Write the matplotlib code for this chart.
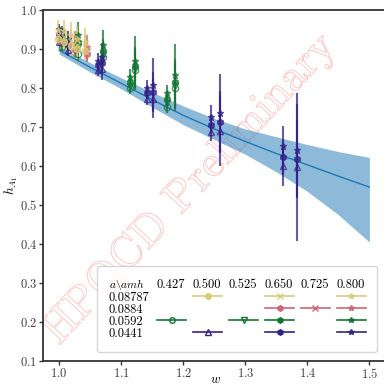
"""
h_A1 form factor vs w with the fit band and HPQCD watermark.
Values read off the reference picture.
"""

import matplotlib
matplotlib.use("Agg")
import matplotlib.pyplot as plt
from matplotlib.lines import Line2D
from matplotlib.patches import PathPatch
from matplotlib.textpath import TextPath
from matplotlib.font_manager import FontProperties
from matplotlib.transforms import Affine2D
import numpy as np

plt.rcParams["font.family"] = "serif"
plt.rcParams["font.serif"] = ["cmr10"]
plt.rcParams["mathtext.fontset"] = "cm"
plt.rcParams["axes.formatter.use_mathtext"] = True

# ------------------------------- data -------------------------------------- #
# fit band
w_fit = [1.0, 1.05, 1.1, 1.15, 1.2, 1.25, 1.3, 1.35, 1.4, 1.45, 1.5]
h_fit = [0.897, 0.853, 0.812, 0.770, 0.730, 0.695, 0.663, 0.632, 0.603, 0.574, 0.546]
h_fit_hi = [0.907, 0.865, 0.826, 0.789, 0.754, 0.722, 0.695, 0.675, 0.655, 0.637, 0.622]
h_fit_lo = [0.887, 0.841, 0.798, 0.751, 0.706, 0.668, 0.630, 0.585, 0.535, 0.475, 0.405]

# a = 0.08787
w_08787 = [0.998, 1.008, 1.019, 1.028, 1.042]
h_08787 = {0.500: [0.925, 0.918, 0.908, 0.900, 0.895],
           0.650: [0.935, 0.930, 0.920, 0.910, 0.905],
           0.800: [0.950, 0.945, 0.935, 0.925, 0.918]}
e_08787 = {0.500: [0.015, 0.020, 0.025, 0.025, 0.025],
           0.650: [0.020, 0.025, 0.030, 0.030, 0.030],
           0.800: [0.025, 0.030, 0.035, 0.035, 0.035]}

# a = 0.0884
w_0884 = [1.003, 1.026, 1.045]
h_0884 = {0.650: [0.918, 0.897, 0.886],
          0.725: [0.925, 0.905, 0.895],
          0.800: [0.935, 0.915, 0.905]}
e_0884 = {0.650: [0.015, 0.020, 0.020],
          0.725: [0.018, 0.025, 0.025],
          0.800: [0.020, 0.030, 0.030]}

# a = 0.0592
w_0592 = [1.005, 1.031, 1.071, 1.115, 1.123, 1.174, 1.186]
h_0592 = {0.427: [0.905, 0.888, 0.880, 0.800, 0.846, 0.752, 0.800],
          0.525: [0.918, 0.905, 0.888, 0.806, 0.850, 0.762, 0.806],
          0.650: [0.930, 0.918, 0.896, 0.815, 0.856, 0.772, 0.815],
          0.800: [0.945, 0.935, 0.910, 0.828, 0.868, 0.787, 0.833]}
e_0592 = {0.427: [0.010, 0.020, 0.020, 0.015, 0.050, 0.015, 0.060],
          0.525: [0.012, 0.020, 0.025, 0.015, 0.050, 0.015, 0.060],
          0.650: [0.012, 0.025, 0.030, 0.018, 0.050, 0.018, 0.060],
          0.800: [0.015, 0.035, 0.040, 0.020, 0.065, 0.020, 0.080]}

# a = 0.0441
w_0441 = [1.0, 1.015, 1.063, 1.069, 1.142, 1.152, 1.244, 1.26, 1.361, 1.384]
h_0441 = {0.500: [0.917, 0.897, 0.845, 0.850, 0.772, 0.772, 0.688, 0.690, 0.600, 0.598],
          0.650: [0.935, 0.910, 0.858, 0.865, 0.786, 0.790, 0.706, 0.713, 0.622, 0.618],
          0.800: [0.952, 0.925, 0.870, 0.880, 0.800, 0.808, 0.726, 0.736, 0.652, 0.640]}
e_0441 = {0.500: [0.010, 0.015, 0.015, 0.030, 0.015, 0.050, 0.025, 0.090, 0.050, 0.190],
          0.650: [0.010, 0.015, 0.015, 0.030, 0.015, 0.050, 0.025, 0.080, 0.045, 0.100],
          0.800: [0.012, 0.020, 0.020, 0.035, 0.020, 0.070, 0.030, 0.100, 0.050, 0.120]}

lattice_spacings = ["0.08787", "0.0884", "0.0592", "0.0441"]
heavy_masses = [0.427, 0.500, 0.525, 0.650, 0.725, 0.800]
# --------------------------------------------------------------------------- #

colours = {"0.08787": "#ddcc77", "0.0884": "#cc6677",
           "0.0592": "#117733", "0.0441": "#332288"}

# marker (and whether it is filled) for each ensemble / heavy mass pair
markers = {("0.08787", 0.500): ("o", True), ("0.08787", 0.650): ("x", True),
           ("0.08787", 0.800): ("*", True),
           ("0.0884", 0.650): ("h", True), ("0.0884", 0.725): ("x", True),
           ("0.0884", 0.800): ("*", True),
           ("0.0592", 0.427): ("o", False), ("0.0592", 0.525): ("v", False),
           ("0.0592", 0.650): ("h", True), ("0.0592", 0.800): ("*", True),
           ("0.0441", 0.500): ("^", False), ("0.0441", 0.650): ("h", True),
           ("0.0441", 0.800): ("*", True)}

ensembles = {"0.0884": (w_0884, h_0884, e_0884),
             "0.0592": (w_0592, h_0592, e_0592),
             "0.0441": (w_0441, h_0441, e_0441),
             "0.08787": (w_08787, h_08787, e_08787)}

fig = plt.figure(figsize=(3.84, 3.86), dpi=100)
ax = fig.add_axes([43 / 384, 25 / 386, 345 / 384, 351 / 386])

# fit band
ax.fill_between(w_fit, h_fit_lo, h_fit_hi, color="#1f77b4", alpha=0.5, lw=0)
ax.plot(w_fit, h_fit, color="#1f77b4", lw=1.0)

for a, (w, h, e) in ensembles.items():
    c = colours[a]
    for m in h:
        mk, filled = markers[(a, m)]
        ax.errorbar(w, h[m], yerr=e[m], fmt=mk, color=c, ms=4.5, mew=1.0,
                    mfc=c if filled else "none", elinewidth=1.5,
                    capsize=0, alpha=0.75, zorder=3)

# table style legend: first column holds the row labels
blank = Line2D([], [], ls="none", marker="")
handles = [blank] * 5
labels = [r"$a\backslash amh$"] + lattice_spacings
for m in heavy_masses:
    handles.append(blank)
    labels.append(f"{m:.3f}")
    for a in lattice_spacings:
        if (a, m) in markers:
            mk, filled = markers[(a, m)]
            handles.append(Line2D([], [], color=colours[a], marker=mk, ms=4,
                                  mfc=colours[a] if filled else "none", lw=1.2))
        else:
            handles.append(blank)
        labels.append("")

leg = ax.legend(handles, labels, ncol=7, loc="lower right", fontsize=9,
                bbox_to_anchor=(0.968, 0.026), borderaxespad=0,
                handlelength=2.35, handletextpad=-2.35, columnspacing=0.6,
                labelspacing=-0.02, borderpad=0.95)
leg.get_texts()[0].set_fontsize(8.2)

# outlined watermark, centred on an axes point and rotated
tp = TextPath((0, 0), "HPQCD Preliminary", size=32,
              prop=FontProperties(family="cmr10"))
bb = tp.get_extents()
cx, cy = (bb.x0 + bb.x1) / 2, (bb.y0 + bb.y1) / 2
px, py = ax.transAxes.transform((0.426, 0.49))
tr = (Affine2D().translate(-cx, -cy).rotate_deg(47).scale(fig.dpi / 72)
      .translate(px, py))
ax.add_artist(PathPatch(tp, transform=tr, fc="none", ec="red",
                        lw=0.6, alpha=0.25, zorder=0))

ax.set_xlim(0.974, 1.53)
ax.set_ylim(0.1, 1.0)
ax.set_xticks([1.0, 1.1, 1.2, 1.3, 1.4, 1.5])
ax.set_yticks(np.arange(0.1, 1.01, 0.1))
ax.set_xlabel("$w$", fontsize=9.5)
ax.xaxis.set_label_coords(0.5, -0.036)
ax.set_ylabel("$h_{A_1}$", fontsize=9.5, labelpad=0)
ax.tick_params(labelsize=9, length=3, width=1, pad=1.0,
               colors="0.2", labelcolor="0.25")
for s in ax.spines.values():
    s.set_color("0.2")
    s.set_linewidth(1.3)

plt.savefig("out.png", dpi=100)
